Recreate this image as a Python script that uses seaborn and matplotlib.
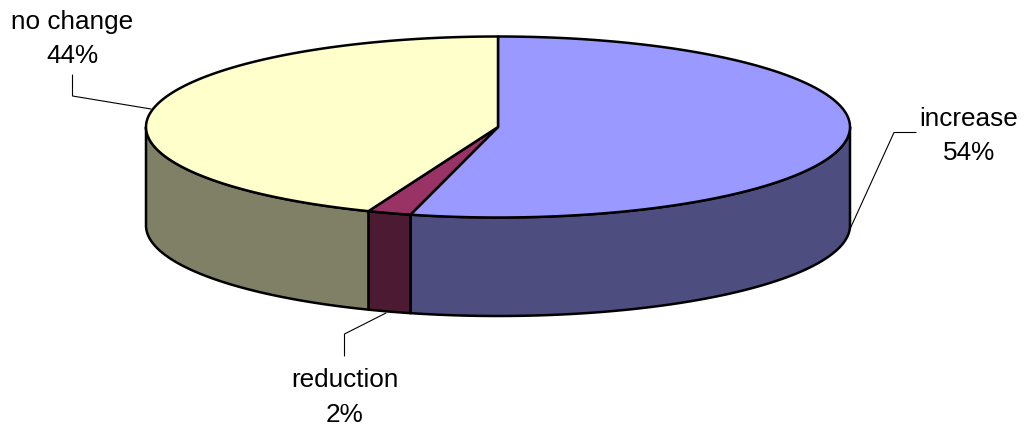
import numpy as np
import matplotlib
matplotlib.use("Agg")
import matplotlib.pyplot as plt
from matplotlib.patches import Polygon
import seaborn as sns

categories = ["increase", "reduction", "no change"]
shares = [54, 2, 44]
top_colors = ["#9999FF", "#993366", "#FFFFCC"]
side_colors = ["#4D4D80", "#4D1A33", "#808066"]

sns.set_theme(style="white")
plt.rcParams["font.family"] = ["Liberation Sans", "DejaVu Sans"]

W, H = 1027, 431
fig = plt.figure(figsize=(W / 100, H / 100), dpi=100, facecolor="white")
ax = fig.add_axes([0, 0, 1, 1])
ax.set_xlim(0, W)
ax.set_ylim(H, 0)
ax.axis("off")

# Projection of the disc onto the page, in pixels
cx, cy, rx, ry, depth = 498.0, 128.0, 352.0, 90.5, 98.5


def rim(t):
    return np.column_stack([cx + rx * np.sin(t), cy - ry * np.cos(t)])


edges = np.cumsum([0] + shares) / sum(shares) * 2 * np.pi
outline = dict(edgecolor="black", linewidth=1.8, joinstyle="round")

# Side walls: only the front half of the rim (pi/2 to 3*pi/2) is visible
for start, stop, colour in zip(edges[:-1], edges[1:], side_colors):
    lo, hi = max(start, np.pi / 2), min(stop, 3 * np.pi / 2)
    if hi <= lo:
        continue
    arc = rim(np.linspace(lo, hi, 200))
    wall = np.vstack([arc, arc[::-1] + [0, depth]])
    ax.add_patch(Polygon(wall, closed=True, facecolor=colour, **outline))

# Top faces of the wedges
for start, stop, colour in zip(edges[:-1], edges[1:], top_colors):
    arc = rim(np.linspace(start, stop, 300))
    ax.add_patch(Polygon(np.vstack([[cx, cy], arc]), closed=True, facecolor=colour, **outline))

# Labels with elbow leader lines
labels = {
    "increase": dict(text=(969, 136), line=[(850, 230), (894, 133.5), (916, 133.5)]),
    "reduction": dict(text=(344.5, 397.5), line=[(386, 314), (344.5, 335), (344.5, 357)]),
    "no change": dict(text=(72, 39), line=[(151, 110), (72.5, 97), (72.5, 76)]),
}
for name, share in zip(categories, shares):
    spec = labels[name]
    xs, ys = zip(*spec["line"])
    ax.plot(xs, ys, color="black", lw=0.8, solid_joinstyle="miter")
    ax.text(*spec["text"], f"{name}\n{share}%", ha="center", va="center",
            fontsize=18.8, color="black", linespacing=1.55)

fig.savefig("out.png", dpi=100, facecolor="white")
